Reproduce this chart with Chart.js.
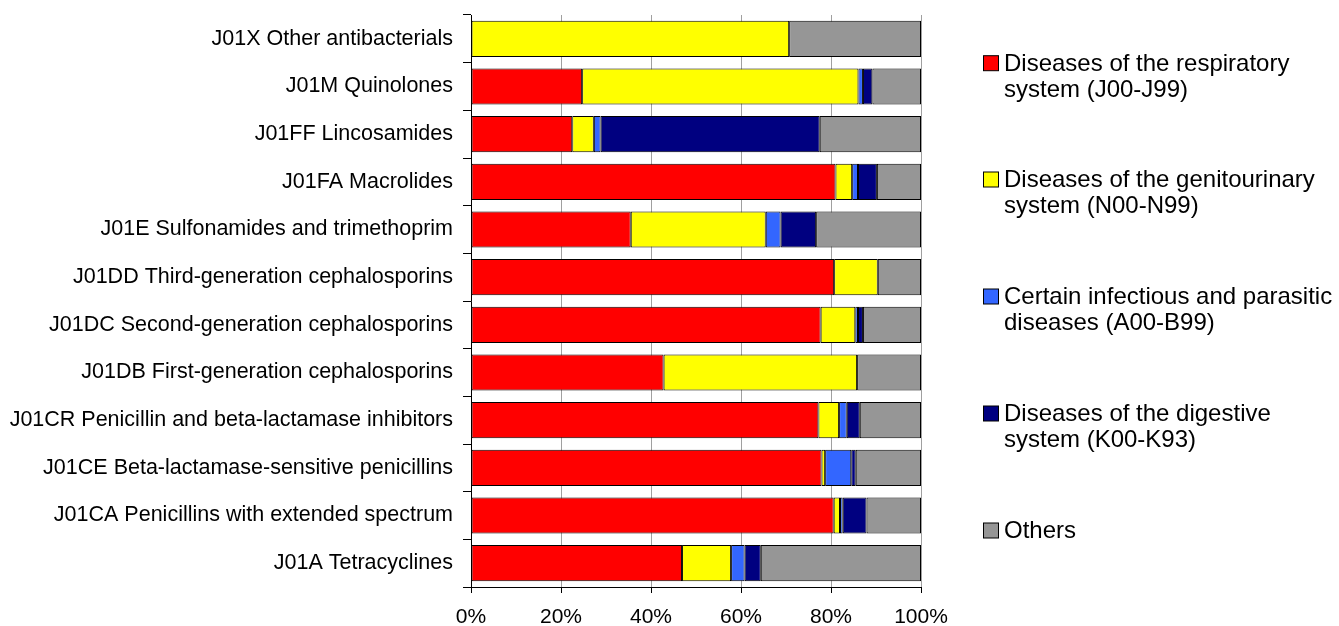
<!DOCTYPE html>
<html>
<head>
<meta charset="utf-8">
<script src="https://cdn.jsdelivr.net/npm/chart.js@4.4.1/dist/chart.umd.min.js"></script>
<style>
  html, body { margin: 0; padding: 0; background: #ffffff; }
  #wrap { width: 1339px; height: 626px; position: relative; }
</style>
</head>
<body>
<div id="wrap"><canvas id="c" width="1339" height="626"></canvas></div>
<script>
const categories = [
  "J01X Other antibacterials",
  "J01M Quinolones",
  "J01FF Lincosamides",
  "J01FA Macrolides",
  "J01E Sulfonamides and trimethoprim",
  "J01DD Third-generation cephalosporins",
  "J01DC Second-generation cephalosporins",
  "J01DB First-generation cephalosporins",
  "J01CR Penicillin and beta-lactamase inhibitors",
  "J01CE Beta-lactamase-sensitive penicillins",
  "J01CA Penicillins with extended spectrum",
  "J01A Tetracyclines"
];

const seriesNames = [
  ["Diseases of the respiratory", "system (J00-J99)"],
  ["Diseases of the genitourinary", "system (N00-N99)"],
  ["Certain infectious and parasitic", "diseases (A00-B99)"],
  ["Diseases of the digestive", "system (K00-K93)"],
  ["Others"]
];

const respiratory   = [0,    24.7, 22.5, 81.0, 35.5, 80.7, 77.7, 42.8, 77.2, 77.9, 80.6, 46.9];
const genitourinary = [70.7, 61.4,  4.8,  3.7, 30.0,  9.7,  7.7, 43.0,  4.6,  0.8,  1.4, 10.9];
const infectious    = [0,     1.0,  1.5,  1.3,  3.3,  0,    0.6,  0,    1.7,  5.8,  0.6,  3.0];
const digestive     = [0,     2.1, 48.7,  4.2,  7.9,  0,    1.1,  0,    2.9,  1.0,  5.3,  3.6];
const others        = [29.3, 10.8, 22.5,  9.8, 23.3,  9.6, 12.9, 14.2, 13.6, 14.5, 12.1, 35.6];

const xTicks = [0, 20, 40, 60, 80, 100];

const seriesValues = [respiratory, genitourinary, infectious, digestive, others];
const seriesColors = ["#FF0000", "#FFFF00", "#3366FF", "#000080", "#969696"];

const FONT = "'Liberation Sans', Arial, sans-serif";

const legendPlugin = {
  id: 'sideLegend',
  afterDraw(chart) {
    const ctx = chart.ctx;
    ctx.save();
    ctx.font = "24px " + FONT;
    ctx.textBaseline = 'alphabetic';
    ctx.textAlign = 'left';
    const x0 = 983.5;
    const textX = 1004;
    const baselines = [70.7, 187, 304, 421, 538];
    chart.data.datasets.forEach((ds, i) => {
      const b = baselines[i];
      ctx.fillStyle = ds.backgroundColor;
      ctx.fillRect(x0, b - 15, 15, 15);
      ctx.strokeStyle = '#000000';
      ctx.lineWidth = 1;
      ctx.strokeRect(x0, b - 15, 15, 15);
      ctx.fillStyle = '#000000';
      ds.legendLines.forEach((line, j) => {
        ctx.fillText(line, textX, b + j * 26);
      });
    });
    ctx.restore();
  }
};

const datasets = seriesValues.map((vals, i) => ({
  label: seriesNames[i].join(' '),
  legendLines: seriesNames[i],
  data: vals,
  backgroundColor: seriesColors[i],
  borderColor: '#000000',
  borderWidth: 1,
  borderSkipped: false,
  barPercentage: 0.76,
  categoryPercentage: 1.0
}));

new Chart(document.getElementById('c'), {
  type: 'bar',
  data: { labels: categories, datasets },
  plugins: [legendPlugin],
  options: {
    indexAxis: 'y',
    responsive: false,
    animation: false,
    events: [],
    layout: { padding: { top: 15, right: 418, left: 0, bottom: 0 } },
    plugins: {
      legend: { display: false },
      tooltip: { enabled: false },
      title: { display: false }
    },
    scales: {
      x: {
        stacked: true,
        min: 0,
        max: 100,
        afterBuildTicks(scale) { scale.ticks = xTicks.map(v => ({ value: v })); },
        afterFit(scale) {
          scale.height = 39;
          scale.paddingLeft = 0; scale.paddingRight = 0;
        },
        ticks: {
          color: '#000000',
          font: { family: FONT, size: 21 },
          padding: 12,
          maxRotation: 0,
          callback: v => v + '%'
        },
        grid: {
          color: '#a0a0a0',
          lineWidth: 1,
          tickColor: '#000000',
          tickLength: 6,
          drawOnChartArea: true
        },
        border: { display: true, color: '#000000', width: 1 }
      },
      y: {
        stacked: true,
        afterFit(scale) {
          scale.width = 471;
          scale.paddingTop = 0; scale.paddingBottom = 0;
        },
        ticks: {
          color: '#000000',
          font: { family: FONT, size: 21.5 },
          padding: 10
        },
        grid: {
          offset: true,
          drawOnChartArea: false,
          tickColor: '#000000',
          tickLength: 8
        },
        border: { display: true, color: '#000000', width: 1 }
      }
    }
  }
});
</script>
</body>
</html>
